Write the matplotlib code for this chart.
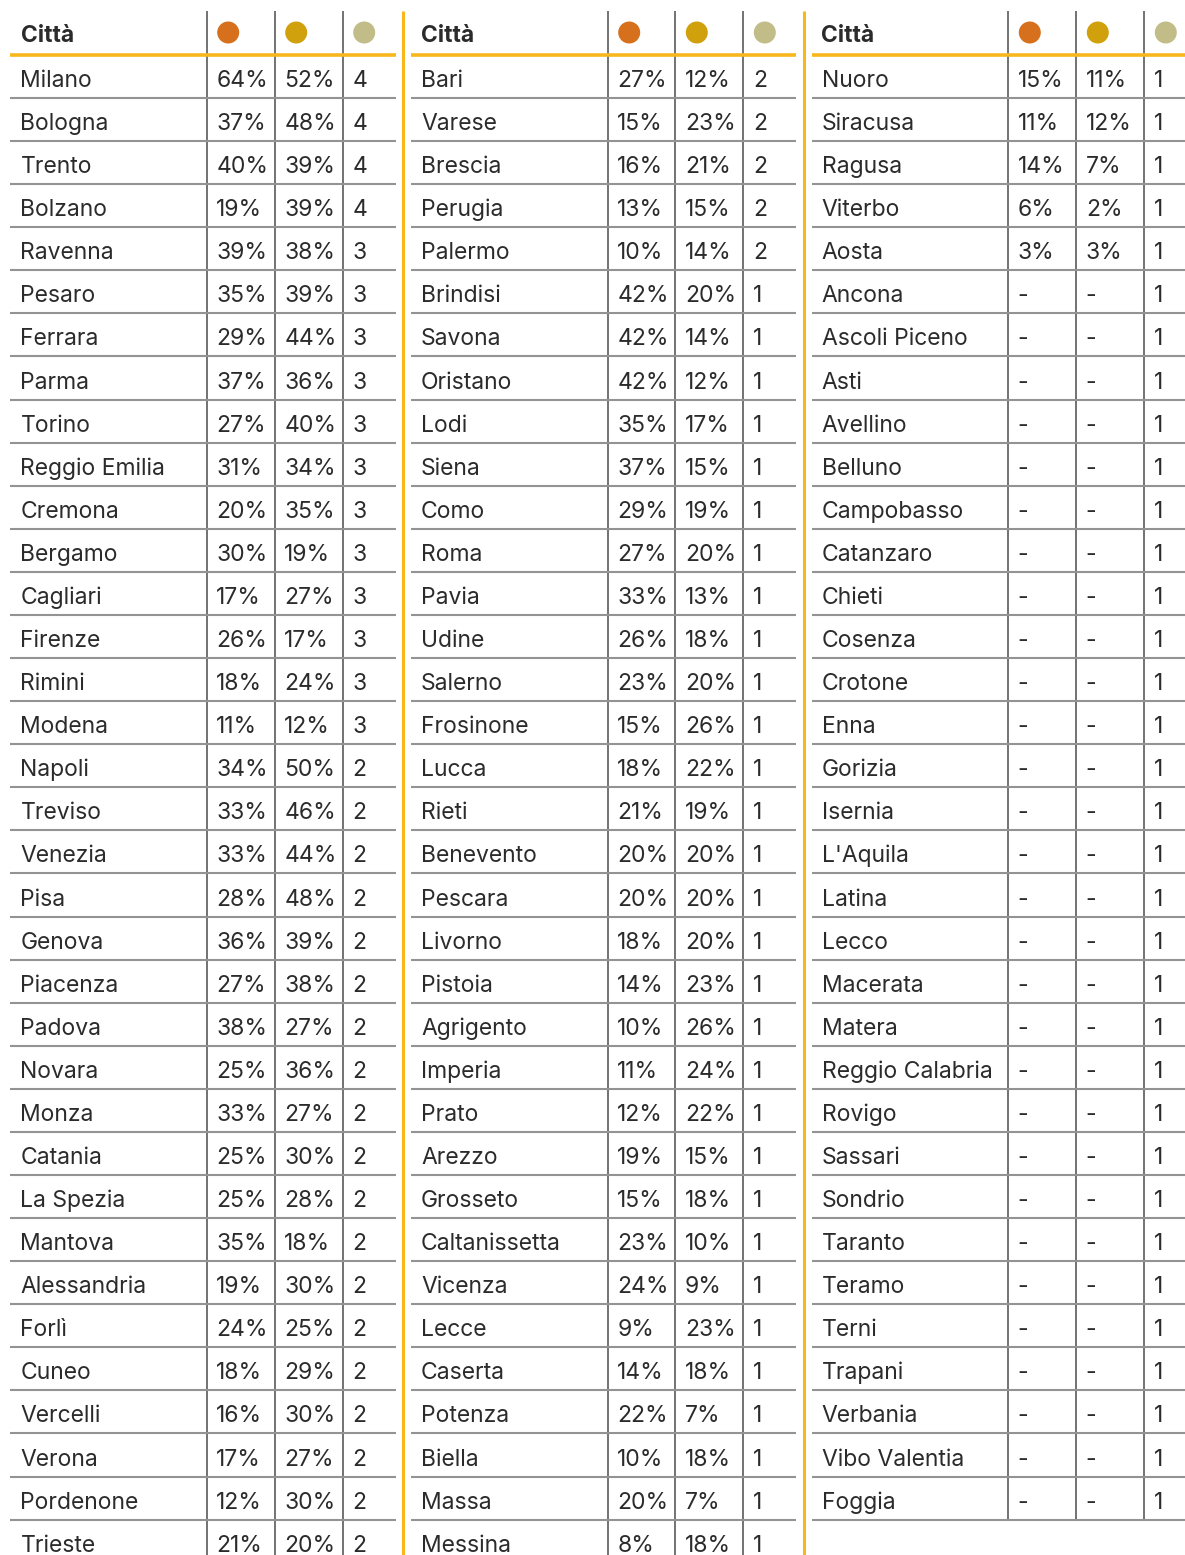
import matplotlib
matplotlib.use("Agg")
import matplotlib.pyplot as plt
from matplotlib.patches import Circle

plt.rcParams['font.family'] = ['Inter', 'DejaVu Sans']

# ---------------- data ----------------
header = "Città"
dot_colors = ["#D6701C", "#D1A00D", "#C2BC88"]

cities1 = ["Milano", "Bologna", "Trento", "Bolzano", "Ravenna", "Pesaro", "Ferrara", "Parma",
           "Torino", "Reggio Emilia", "Cremona", "Bergamo", "Cagliari", "Firenze", "Rimini",
           "Modena", "Napoli", "Treviso", "Venezia", "Pisa", "Genova", "Piacenza", "Padova",
           "Novara", "Monza", "Catania", "La Spezia", "Mantova", "Alessandria", "Forlì",
           "Cuneo", "Vercelli", "Verona", "Pordenone", "Trieste"]
orange1 = [64, 37, 40, 19, 39, 35, 29, 37, 27, 31, 20, 30, 17, 26, 18, 11, 34, 33, 33, 28,
           36, 27, 38, 25, 33, 25, 25, 35, 19, 24, 18, 16, 17, 12, 21]
gold1 = [52, 48, 39, 39, 38, 39, 44, 36, 40, 34, 35, 19, 27, 17, 24, 12, 50, 46, 44, 48,
         39, 38, 27, 36, 27, 30, 28, 18, 30, 25, 29, 30, 27, 30, 20]
count1 = [4, 4, 4, 4, 3, 3, 3, 3, 3, 3, 3, 3, 3, 3, 3, 3, 2, 2, 2, 2,
          2, 2, 2, 2, 2, 2, 2, 2, 2, 2, 2, 2, 2, 2, 2]

cities2 = ["Bari", "Varese", "Brescia", "Perugia", "Palermo", "Brindisi", "Savona", "Oristano",
           "Lodi", "Siena", "Como", "Roma", "Pavia", "Udine", "Salerno", "Frosinone", "Lucca",
           "Rieti", "Benevento", "Pescara", "Livorno", "Pistoia", "Agrigento", "Imperia",
           "Prato", "Arezzo", "Grosseto", "Caltanissetta", "Vicenza", "Lecce", "Caserta",
           "Potenza", "Biella", "Massa", "Messina"]
orange2 = [27, 15, 16, 13, 10, 42, 42, 42, 35, 37, 29, 27, 33, 26, 23, 15, 18, 21, 20, 20,
           18, 14, 10, 11, 12, 19, 15, 23, 24, 9, 14, 22, 10, 20, 8]
gold2 = [12, 23, 21, 15, 14, 20, 14, 12, 17, 15, 19, 20, 13, 18, 20, 26, 22, 19, 20, 20,
         20, 23, 26, 24, 22, 15, 18, 10, 9, 23, 18, 7, 18, 7, 18]
count2 = [2, 2, 2, 2, 2, 1, 1, 1, 1, 1, 1, 1, 1, 1, 1, 1, 1, 1, 1, 1,
          1, 1, 1, 1, 1, 1, 1, 1, 1, 1, 1, 1, 1, 1, 1]

cities3 = ["Nuoro", "Siracusa", "Ragusa", "Viterbo", "Aosta", "Ancona", "Ascoli Piceno", "Asti",
           "Avellino", "Belluno", "Campobasso", "Catanzaro", "Chieti", "Cosenza", "Crotone",
           "Enna", "Gorizia", "Isernia", "L'Aquila", "Latina", "Lecco", "Macerata", "Matera",
           "Reggio Calabria", "Rovigo", "Sassari", "Sondrio", "Taranto", "Teramo", "Terni",
           "Trapani", "Verbania", "Vibo Valentia", "Foggia"]
orange3 = [15, 11, 14, 6, 3] + [None] * 29
gold3 = [11, 12, 7, 2, 3] + [None] * 29
count3 = [1] * 34

# ---------------- layout ----------------
W, H = 1185, 1555
fig = plt.figure(figsize=(W / 100, H / 100), dpi=100)
ax = fig.add_axes([0, 0, 1, 1])
ax.set_xlim(0, W)
ax.set_ylim(H, 0)
ax.axis('off')

ACCENT = "#F7B71D"
ROWLINE = "#939393"
VLINE = "#5A5A5A"
TEXT = "#2B2B2B"

row_h = 43.08
first_line = 98.0
head_line = 54.5
top = 11
fs = 16.5

panels = [
    dict(x0=10, seps=[206.7, 274.7, 342.7], x1=395.7, tx=20.5, cities=cities1, o=orange1, g=gold1, n=count1),
    dict(x0=411, seps=[607.7, 675.3, 743.3], x1=796, tx=421, cities=cities2, o=orange2, g=gold2, n=count2),
    dict(x0=811.7, seps=[1008.3, 1076.3, 1144.3], x1=1185, tx=821.5, cities=cities3, o=orange3, g=gold3, n=count3),
]

for xo in [403.3, 804]:
    ax.plot([xo, xo], [top, H], color=ACCENT, lw=2.2, solid_capstyle='butt')

for p in panels:
    nrows = len(p['cities'])
    bottom = min(first_line + (nrows - 1) * row_h, H)
    # header
    ax.text(p['tx'], 42.5, header, fontsize=fs, fontweight='bold', color=TEXT, va='baseline', ha='left')
    for k, sx in enumerate(p['seps']):
        ax.add_patch(Circle((sx + 21.5, 32.5), 11, color=dot_colors[k], lw=0))
    # vertical separators
    for sx in p['seps']:
        ax.plot([sx, sx], [top, bottom], color=VLINE, lw=1.2, solid_capstyle='butt')
    # row lines
    for i in range(nrows):
        yl = first_line + i * row_h
        if yl <= H:
            ax.plot([p['x0'], p['x1']], [yl, yl], color=ROWLINE, lw=1.5, solid_capstyle='butt')
    ax.plot([p['x0'], p['x1']], [head_line, head_line], color=ACCENT, lw=2.6, solid_capstyle='butt')
    # cells
    for i, c in enumerate(p['cities']):
        yb = first_line + i * row_h - 11
        ax.text(p['tx'], yb, c, fontsize=fs, color=TEXT, va='baseline', ha='left')
        vals = [p['o'][i], p['g'][i], p['n'][i]]
        labels = ["-" if vals[0] is None else f"{vals[0]}%",
                  "-" if vals[1] is None else f"{vals[1]}%",
                  f"{vals[2]}"]
        for sx, lab in zip(p['seps'], labels):
            ax.text(sx + 9.5, yb, lab, fontsize=fs, color=TEXT, va='baseline', ha='left')

fig.savefig("out.png", dpi=100)
